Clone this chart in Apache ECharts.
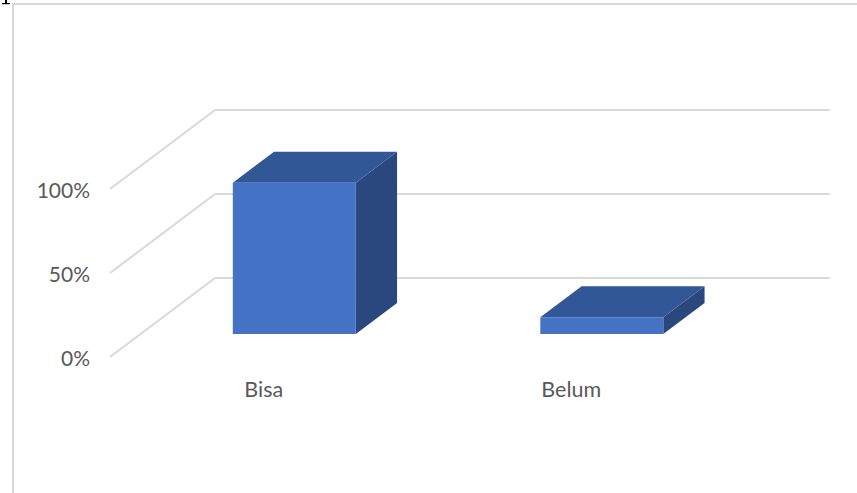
<!DOCTYPE html>
<html>
<head>
<meta charset="utf-8">
<script src="https://cdn.jsdelivr.net/npm/echarts@6/dist/echarts.min.js"></script>
<style>
html,body{margin:0;padding:0;background:#fff;}
#chart{width:857px;height:493px;}
</style>
</head>
<body>
<div id="chart"></div>
<script>
// ---- data ----
const categories = ['Bisa', 'Belum'];
const values = [90, 10];           // percent
const yTicks = [0, 50, 100];       // percent tick labels

// ---- layout (3D oblique projection) ----
const BACK = {left: 215, right: 27, top: 110, bottom: 215};
const DEPTH = {dx: -105, dy: 79};  // offset from back wall to front edge
const FRONT = {left: BACK.left + DEPTH.dx, right: BACK.right - DEPTH.dx, top: BACK.top + DEPTH.dy, bottom: BACK.bottom - DEPTH.dy};
const BAR_FRONT = 0.709, BAR_BACK = 0.316, BAR_W = 0.4;
const C_FRONT = '#4472C4', C_TOP = '#325796', C_SIDE = '#2A487E';
const FONT = 'Lato, "Open Sans", sans-serif';
const TXT = '#595959';

const chart = echarts.init(document.getElementById('chart'), null, {renderer: 'svg'});

function barItem(params, api) {
  const i = api.value(0), v = api.value(1);
  const base = api.coord([i, 0]), top = api.coord([i, v]);
  const bw = api.size([1, 0])[0] * BAR_W;
  const cx = base[0];
  function pt(xs, ys, f) { return [xs + f * DEPTH.dx, ys + f * DEPTH.dy]; }
  const xl = cx - bw / 2, xr = cx + bw / 2;
  const ftl = pt(xl, top[1], BAR_FRONT), ftr = pt(xr, top[1], BAR_FRONT);
  const fbl = pt(xl, base[1], BAR_FRONT), fbr = pt(xr, base[1], BAR_FRONT);
  const btl = pt(xl, top[1], BAR_BACK), btr = pt(xr, top[1], BAR_BACK);
  const bbr = pt(xr, base[1], BAR_BACK);
  return {
    type: 'group',
    children: [
      {type: 'polygon', shape: {points: [ftr, btr, bbr, fbr]}, style: {fill: C_SIDE}},
      {type: 'polygon', shape: {points: [ftl, ftr, btr, btl]}, style: {fill: C_TOP}},
      {type: 'polygon', shape: {points: [ftl, ftr, fbr, fbl]}, style: {fill: C_FRONT}}
    ]
  };
}

function diagItem(params, api) {
  const y = api.coord([0, api.value(1)])[1];
  const x = params.coordSys.x;
  return {
    type: 'line',
    shape: {x1: x + DEPTH.dx, y1: y + DEPTH.dy, x2: x, y2: y},
    style: {stroke: '#D9D9D9', lineWidth: 2}
  };
}

const option = {
  animation: false,
  backgroundColor: '#fff',
  graphic: [
    {type: 'polyline', shape: {points: [[13, 493], [13, 4], [857, 4]]}, style: {stroke: '#D9D9D9', lineWidth: 2, fill: null}, silent: true},
    {type: 'rect', shape: {x: 5, y: 0, width: 2, height: 4}, style: {fill: '#000'}, silent: true},
    {type: 'rect', shape: {x: 2, y: 3, width: 8, height: 1.2}, style: {fill: '#000'}, silent: true}
  ],
  grid: [
    Object.assign({}, BACK),
    Object.assign({}, FRONT)
  ],
  xAxis: [
    {type: 'category', gridIndex: 0, data: categories, show: false},
    {type: 'category', gridIndex: 1, data: categories,
     axisLine: {show: false}, axisTick: {show: false},
     axisLabel: {margin: 21, fontFamily: FONT, fontSize: 21.5, color: TXT}}
  ],
  yAxis: [
    {type: 'value', gridIndex: 0, min: 0, max: 100, interval: 50,
     axisLabel: {show: false}, axisLine: {show: false}, axisTick: {show: false},
     splitLine: {lineStyle: {color: '#D9D9D9', width: 2}}},
    {type: 'value', gridIndex: 1, min: 0, max: 100, interval: 50,
     axisLine: {show: false}, axisTick: {show: false}, splitLine: {show: false},
     axisLabel: {margin: 20, fontFamily: FONT, fontSize: 21, color: TXT, formatter: '{value}%'}}
  ],
  series: [
    {type: 'custom', xAxisIndex: 0, yAxisIndex: 0, renderItem: diagItem,
     data: yTicks.map(t => [0, t]), silent: true, z: 1},
    {type: 'custom', xAxisIndex: 0, yAxisIndex: 0, renderItem: barItem,
     data: values.map((v, i) => [i, v]), z: 3}
  ]
};
chart.setOption(option);
</script>
</body>
</html>
